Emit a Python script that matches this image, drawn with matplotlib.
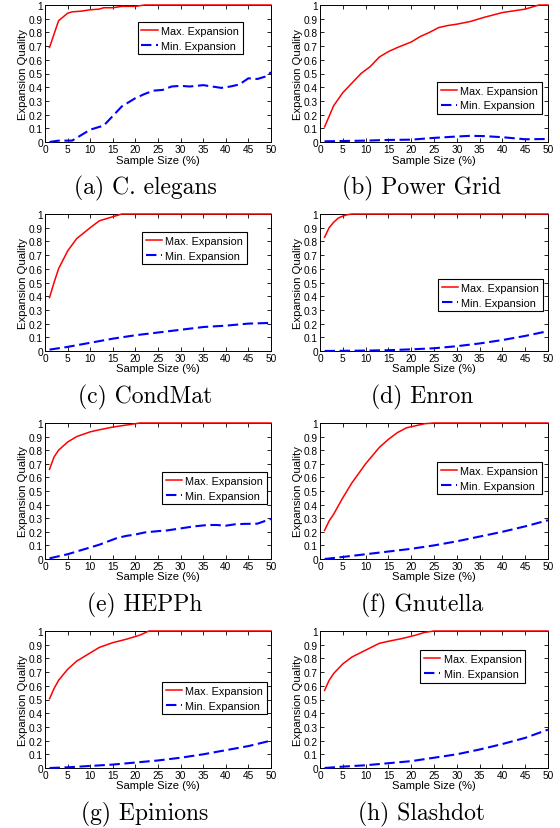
import matplotlib
matplotlib.use("Agg")
import matplotlib.pyplot as plt

plt.rcParams['font.family'] = ['Liberation Sans', 'DejaVu Sans']

captions = ["(a) C. elegans", "(b) Power Grid", "(c) CondMat", "(d) Enron",
            "(e) HEPPh", "(f) Gnutella", "(g) Epinions", "(h) Slashdot"]

# (a) C. elegans
a_max_x = [1, 3, 5, 6, 8, 10, 12, 13, 15, 17, 20, 22, 25, 30, 40, 50]
a_max_y = [0.69, 0.885, 0.94, 0.95, 0.955, 0.965, 0.97, 0.98, 0.98, 0.99, 0.99, 1.0, 1.0, 1.0, 1.0, 1.0]
a_min_x = [1, 3, 5, 6, 8, 10, 12, 13, 15, 17, 18, 20, 22, 24, 26, 28, 30, 32, 35, 37, 39, 41, 43, 45, 47, 49, 50]
a_min_y = [0.0, 0.01, 0.01, 0.01, 0.05, 0.09, 0.11, 0.12, 0.19, 0.26, 0.28, 0.32, 0.35, 0.375, 0.38,
           0.405, 0.41, 0.405, 0.415, 0.405, 0.395, 0.405, 0.42, 0.465, 0.46, 0.48, 0.51]

# (b) Power Grid
b_max_x = [1, 3, 5, 7, 9, 11, 13, 15, 17, 20, 22, 24, 26, 28, 30, 33, 36, 40, 45, 48, 50]
b_max_y = [0.11, 0.265, 0.36, 0.43, 0.5, 0.55, 0.62, 0.66, 0.69, 0.73, 0.77, 0.8, 0.835, 0.85, 0.86,
           0.88, 0.91, 0.945, 0.97, 1.0, 1.0]
b_min_x = [1, 10, 15, 20, 25, 30, 33, 36, 40, 45, 50]
b_min_y = [0.005, 0.01, 0.015, 0.017, 0.03, 0.04, 0.045, 0.043, 0.035, 0.02, 0.022]

# (c) CondMat
c_max_x = [1, 2, 3, 5, 7, 10, 12, 15, 17, 20, 30, 40, 50]
c_max_y = [0.39, 0.5, 0.6, 0.73, 0.82, 0.9, 0.95, 0.98, 1.0, 1.0, 1.0, 1.0, 1.0]
c_min_x = [1, 5, 10, 15, 20, 25, 30, 35, 40, 45, 50]
c_min_y = [0.01, 0.03, 0.06, 0.09, 0.115, 0.135, 0.155, 0.175, 0.185, 0.2, 0.205]

# (d) Enron
d_max_x = [1, 2, 3, 4, 5, 6, 7, 10, 20, 30, 40, 50]
d_max_y = [0.83, 0.9, 0.94, 0.97, 0.985, 0.995, 1.0, 1.0, 1.0, 1.0, 1.0, 1.0]
d_min_x = [1, 10, 15, 20, 25, 30, 35, 40, 45, 50]
d_min_y = [0.0, 0.003, 0.006, 0.012, 0.02, 0.035, 0.055, 0.08, 0.11, 0.145]

# (e) HEPPh
e_max_x = [1, 2, 3, 5, 7, 10, 12, 15, 18, 21, 30, 40, 50]
e_max_y = [0.66, 0.75, 0.8, 0.86, 0.9, 0.935, 0.95, 0.97, 0.985, 1.0, 1.0, 1.0, 1.0]
e_min_x = [1, 3, 5, 7, 10, 12, 14, 16, 18, 20, 22, 25, 27, 30, 33, 36, 38, 40, 42, 44, 47, 50]
e_min_y = [0.005, 0.02, 0.035, 0.055, 0.085, 0.105, 0.13, 0.155, 0.17, 0.18, 0.195, 0.205, 0.21,
           0.225, 0.24, 0.25, 0.25, 0.245, 0.255, 0.258, 0.26, 0.295]

# (f) Gnutella
f_max_x = [1, 2, 3, 5, 7, 10, 13, 15, 17, 19, 21, 23, 25, 30, 40, 50]
f_max_y = [0.21, 0.28, 0.33, 0.45, 0.56, 0.7, 0.82, 0.88, 0.93, 0.965, 0.98, 0.995, 1.0, 1.0, 1.0, 1.0]
f_min_x = [1, 5, 10, 15, 20, 25, 30, 35, 40, 45, 50]
f_min_y = [0.0, 0.015, 0.035, 0.055, 0.075, 0.1, 0.13, 0.165, 0.2, 0.24, 0.285]

# (g) Epinions
g_max_x = [1, 2, 3, 5, 7, 10, 12, 15, 18, 21, 23, 30, 40, 50]
g_max_y = [0.505, 0.58, 0.64, 0.72, 0.78, 0.84, 0.88, 0.915, 0.94, 0.97, 1.0, 1.0, 1.0, 1.0]
g_min_x = [1, 5, 10, 15, 20, 25, 30, 35, 40, 45, 50]
g_min_y = [0.0, 0.005, 0.015, 0.025, 0.04, 0.055, 0.075, 0.1, 0.13, 0.16, 0.2]

# (h) Slashdot
h_max_x = [1, 2, 3, 5, 7, 10, 13, 15, 18, 21, 23, 25, 30, 40, 50]
h_max_y = [0.566, 0.64, 0.69, 0.76, 0.81, 0.86, 0.91, 0.925, 0.945, 0.97, 0.99, 1.0, 1.0, 1.0, 1.0]
h_min_x = [1, 5, 10, 15, 20, 25, 30, 35, 40, 45, 50]
h_min_y = [0.0, 0.01, 0.02, 0.035, 0.05, 0.075, 0.1, 0.135, 0.175, 0.22, 0.28]

series = [
    (a_max_x, a_max_y, a_min_x, a_min_y),
    (b_max_x, b_max_y, b_min_x, b_min_y),
    (c_max_x, c_max_y, c_min_x, c_min_y),
    (d_max_x, d_max_y, d_min_x, d_min_y),
    (e_max_x, e_max_y, e_min_x, e_min_y),
    (f_max_x, f_max_y, f_min_x, f_min_y),
    (g_max_x, g_max_y, g_min_x, g_min_y),
    (h_max_x, h_max_y, h_min_x, h_min_y),
]

x_ticks = list(range(0, 51, 5))
y_ticks = [i / 10 for i in range(11)]
y_tick_labels = ["0", "0.1", "0.2", "0.3", "0.4", "0.5", "0.6", "0.7", "0.8", "0.9", "1"]

# legend anchor (upper-left corner, axes fraction)
legend_anchor = [(0.41, 0.876), (0.513, 0.44), (0.43, 0.869), (0.518, 0.526),
                 (0.518, 0.64), (0.513, 0.713), (0.518, 0.628), (0.44, 0.861)]

W, H = 560, 829
fig = plt.figure(figsize=(W / 100, H / 100), dpi=100)

col_left = [45, 320]
col_width = [226, 228]
row_top = [6, 215, 424, 632]
row_bottom = [143, 352, 560, 769]
cap_x = [145, 422]

for i, (mx, my, nx, ny) in enumerate(series):
    r, c = divmod(i, 2)
    left = col_left[c] / W
    bottom = 1 - row_bottom[r] / H
    width = col_width[c] / W
    height = (row_bottom[r] - row_top[r]) / H
    ax = fig.add_axes([left, bottom, width, height])
    ax.plot(mx, my, color='#ff0000', lw=1.1, label='Max. Expansion',
            clip_on=False, zorder=5)
    ax.plot(nx, ny, color='#0000ff', lw=1.5, linestyle=(0, (5, 2.2)),
            label='Min. Expansion', clip_on=False, zorder=5)
    ax.set_xlim(0, 50)
    ax.set_ylim(0, 1)
    ax.set_xticks(x_ticks)
    ax.set_yticks(y_ticks)
    ax.set_yticklabels(y_tick_labels)
    ax.tick_params(direction='in', length=3, width=0.6, top=True, right=True,
                   labelsize=7.3, pad=1.5, colors='black')
    for s in ax.spines.values():
        s.set_linewidth(0.7)
        s.set_zorder(2)
    ax.set_xlabel('Sample Size (%)', fontsize=8.1, labelpad=0.3)
    ax.set_ylabel('Expansion Quality', fontsize=8.1, labelpad=0.8)
    leg = ax.legend(loc='upper left', bbox_to_anchor=legend_anchor[i], borderaxespad=0,
                    fontsize=7.8, frameon=True, fancybox=False, framealpha=1,
                    edgecolor='black', handlelength=1.5, handletextpad=0.3,
                    borderpad=0.35, labelspacing=0.45)
    leg.get_frame().set_linewidth(0.8)
    leg.set_zorder(10)
    fig.text(cap_x[c] / W, 1 - (row_bottom[r] + 51) / H, captions[i],
             fontsize=17, family='cmr10', ha='center', va='baseline')

fig.savefig('out.png', dpi=100)
